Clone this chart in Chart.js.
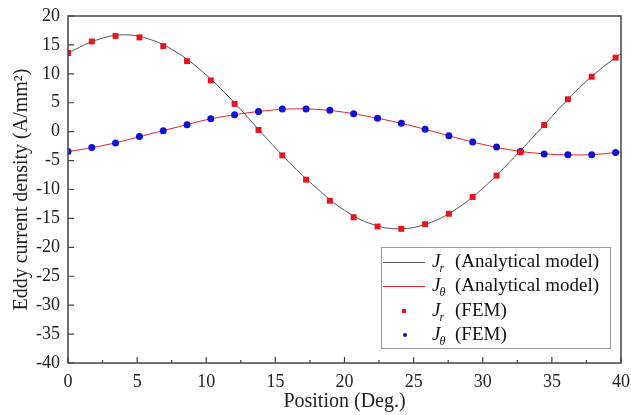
<!DOCTYPE html>
<html>
<head>
<meta charset="utf-8">
<script src="https://cdn.jsdelivr.net/npm/chart.js@4.4.1/dist/chart.umd.min.js"></script>
<style>
  body { margin: 0; background: #fff; }
  #wrap { width: 631px; height: 415px; }
</style>
</head>
<body>
<div id="wrap"><canvas id="my-chart" width="631" height="415"></canvas></div>
<script>
// FEM sample positions (deg) and values (A/mm^2)
const femX = [0, 1.72, 3.44, 5.17, 6.89, 8.61, 10.33, 12.05, 13.78, 15.5, 17.22, 18.94,
              20.66, 22.39, 24.11, 25.83, 27.55, 29.27, 31.0, 32.72, 34.44, 36.16, 37.88, 39.61];
const jrFem = [13.6, 15.6, 16.55, 16.3, 14.8, 12.2, 8.85, 4.8, 0.3, -4.1, -8.3, -11.95,
               -14.8, -16.4, -16.8, -16.0, -14.2, -11.3, -7.6, -3.55, 1.15, 5.6, 9.5, 12.8];
const jthFem = [-3.45, -2.75, -1.95, -0.85, 0.17, 1.2, 2.25, 2.93, 3.5, 3.9, 3.9, 3.7,
                3.1, 2.3, 1.45, 0.4, -0.7, -1.8, -2.65, -3.45, -3.85, -4.0, -3.97, -3.6];

// analytical model curves
const modelX = [0, 2, 4, 6, 8, 10, 12, 14, 16, 18, 20, 22, 24, 26, 28, 30, 32, 34, 36, 38, 40];
const jrModel = [13.6, 15.8, 16.75, 15.9, 13.5, 9.8, 5.1, -0.2, -5.3, -9.8, -13.6, -16.0,
                 -16.8, -15.9, -13.5, -9.8, -5.1, 0.0, 5.2, 9.8, 13.5];
const jthModel = [-3.45, -2.65, -1.6, -0.35, 0.85, 2.05, 2.9, 3.55, 3.92, 3.85, 3.35, 2.5,
                  1.5, 0.3, -1.0, -2.2, -3.15, -3.75, -4.0, -3.95, -3.5];

const xTicks = [0, 5, 10, 15, 20, 25, 30, 35, 40];
const yTicks = [20, 15, 10, 5, 0, -5, -10, -15, -20, -25, -30, -35, -40];

const legendItems = [
    { sub: 'r', text: '(Analytical model)', kind: 'line', color: '#555555' },
    { sub: 'θ', text: '(Analytical model)', kind: 'line', color: '#e8202a' },
    { sub: 'r', text: '(FEM)', kind: 'rect', color: '#e8141c' },
    { sub: 'θ', text: '(FEM)', kind: 'circle', color: '#1010d8' }
];

function pts(xs, ys) {
    return xs.map((x, i) => ({ x: x, y: ys[i] }));
}

const AXIS = '#444';

// frame, inward ticks and the boxed legend
const framePlugin = {
    id: 'frame',
    afterDraw(chart) {
        const ctx = chart.ctx;
        const a = chart.chartArea;
        const xs = chart.scales.x, ys = chart.scales.y;
        ctx.save();
        ctx.strokeStyle = AXIS;
        ctx.lineWidth = 1.5;
        ctx.strokeRect(a.left, a.top, a.right - a.left, a.bottom - a.top);

        ctx.lineWidth = 1.2;
        ctx.beginPath();
        xTicks.forEach(v => {
            const px = xs.getPixelForValue(v);
            ctx.moveTo(px, a.bottom); ctx.lineTo(px, a.bottom - 6);
        });
        for (let v = 2.5; v < 40; v += 5) {
            const px = xs.getPixelForValue(v);
            ctx.moveTo(px, a.bottom); ctx.lineTo(px, a.bottom - 3);
        }
        yTicks.forEach(v => {
            const py = ys.getPixelForValue(v);
            ctx.moveTo(a.left, py); ctx.lineTo(a.left + 6, py);
        });
        ctx.stroke();

        // legend
        const bx = 381, by = 247, bw = 229, bh = 101;
        ctx.fillStyle = '#fff';
        ctx.fillRect(bx, by, bw, bh);
        ctx.strokeStyle = '#999';
        ctx.lineWidth = 1;
        ctx.strokeRect(bx + 0.5, by + 0.5, bw, bh);

        const rows = [262, 286, 311, 335];
        legendItems.forEach((it, i) => {
            const y = rows[i];
            if (it.kind === 'line') {
                ctx.strokeStyle = it.color;
                ctx.lineWidth = 1;
                ctx.beginPath();
                ctx.moveTo(383, y + 0.5); ctx.lineTo(425, y + 0.5);
                ctx.stroke();
            } else if (it.kind === 'rect') {
                ctx.fillStyle = it.color;
                ctx.fillRect(402, y - 2, 4, 4);
            } else {
                ctx.fillStyle = it.color;
                ctx.beginPath();
                ctx.arc(405, y, 2, 0, Math.PI * 2);
                ctx.fill();
            }
            ctx.fillStyle = '#111';
            ctx.textBaseline = 'middle';
            ctx.textAlign = 'left';
            ctx.font = 'italic 19px "Liberation Serif"';
            ctx.fillText('J', 432, y);
            const w = ctx.measureText('J').width;
            ctx.font = 'italic 12px "Liberation Serif"';
            ctx.fillText(it.sub, 432 + w - 1, y + 7);
            ctx.font = '19px "Liberation Serif"';
            ctx.fillText(it.text, 455, y);
        });
        ctx.restore();
    }
};

Chart.defaults.font.family = '"Liberation Serif", "Times New Roman", serif';
Chart.defaults.color = '#222';

const ctx = document.getElementById('my-chart').getContext('2d');
const chart = new Chart(ctx, {
    type: 'scatter',
    data: {
        datasets: [
            {
                label: 'Jr (FEM)',
                data: pts(femX, jrFem),
                pointStyle: 'rect',
                pointRadius: 4.2,
                backgroundColor: '#e8141c',
                borderWidth: 0,
                order: 0
            },
            {
                label: 'Jθ (FEM)',
                data: pts(femX, jthFem),
                pointStyle: 'circle',
                pointRadius: 3.5,
                backgroundColor: '#1010d8',
                borderWidth: 0,
                order: 0
            },
            {
                label: 'Jr (Analytical model)',
                data: pts(modelX, jrModel),
                showLine: true,
                pointRadius: 0,
                borderColor: '#555555',
                borderWidth: 1,
                tension: 0.4,
                order: 1
            },
            {
                label: 'Jθ (Analytical model)',
                data: pts(modelX, jthModel),
                showLine: true,
                pointRadius: 0,
                borderColor: '#e8202a',
                borderWidth: 1,
                tension: 0.4,
                order: 1
            }
        ]
    },
    options: {
        responsive: false,
        animation: false,
        layout: { padding: { left: 0, top: 16, right: 10, bottom: 0 } },
        plugins: {
            legend: { display: false },
            tooltip: { enabled: false }
        },
        scales: {
            x: {
                type: 'linear',
                min: 0,
                max: 40,
                afterFit: s => { s.height = 52; s.paddingLeft = 0; s.paddingRight = 0; },
                grid: { display: false, drawTicks: false },
                border: { display: false },
                ticks: { stepSize: 5, padding: 8, font: { size: 18 }, color: '#222' },
                title: {
                    display: true,
                    text: 'Position (Deg.)',
                    font: { size: 20 },
                    color: '#222',
                    padding: { top: 0, bottom: 1 }
                }
            },
            y: {
                min: -40,
                max: 20,
                afterFit: s => { s.width = 68; s.paddingTop = 0; s.paddingBottom = 0; },
                grid: { display: false, drawTicks: false },
                border: { display: false },
                ticks: { stepSize: 5, padding: 8, font: { size: 18 }, color: '#222' },
                title: {
                    display: true,
                    text: 'Eddy current density (A/mm²)',
                    font: { size: 20 },
                    color: '#222',
                    padding: { top: 10, bottom: 0 }
                }
            }
        }
    },
    plugins: [framePlugin]
});
</script>
</body>
</html>
